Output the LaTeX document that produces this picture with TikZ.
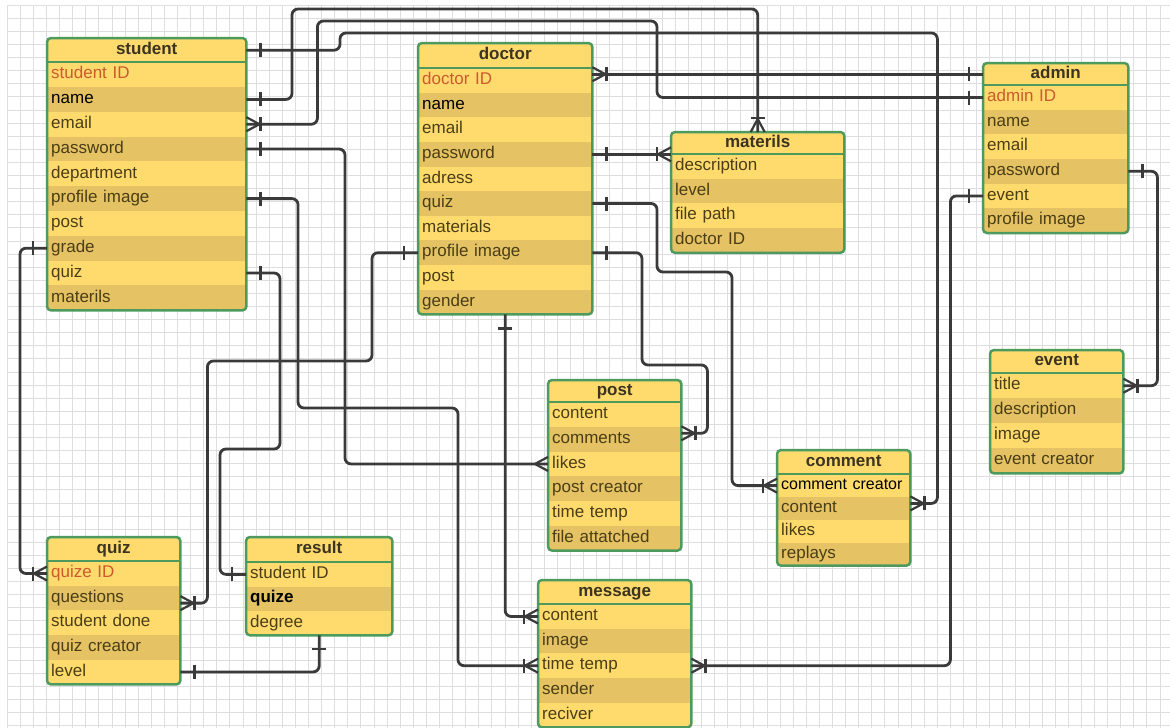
\documentclass[tikz,border=0pt]{standalone}
\usepackage{fontspec}
\setmainfont{Liberation Sans}
\usetikzlibrary{decorations.markings}

\definecolor{rowlight}{HTML}{FFDB6E}
\definecolor{rowdark}{HTML}{E5C263}
\definecolor{framegreen}{HTML}{4E9A5E}
\definecolor{relcol}{HTML}{3A3A3A}
\definecolor{fieldtxt}{HTML}{4A3E16}
\definecolor{hdrtxt}{HTML}{3B3420}
\definecolor{keyred}{HTML}{CC5A2E}
\definecolor{gridcol}{HTML}{DEDEDE}

\begin{document}
\begin{tikzpicture}[x=1pt,y=-1pt]
\def\rowfont{\fontsize{17}{19}\selectfont}; %text size of the fields
\def\barpos{14pt}; %distance of a bar from the table
\def\crowlen{13pt}; %length of a crow foot

\tikzstyle{hdr} = [rectangle, fill=rowlight, inner sep=0mm, anchor=north west, font=\rowfont\bfseries, text=hdrtxt, text height=12pt, text depth=3.5pt]
\tikzstyle{field1} = [rectangle, fill=rowlight, inner xsep=4pt, inner ysep=0pt, anchor=north west, align=left, font=\rowfont, text=fieldtxt, text height=12pt, text depth=3.5pt]
\tikzstyle{field0} = [field1, fill=rowdark]
\tikzstyle{tblframe} = [draw=framegreen, line width=2.5pt, rounded corners=4pt]
\tikzstyle{sepline} = [draw=framegreen, line width=2pt]
\tikzstyle{gridline} = [draw=gridcol, line width=0.6pt]
\tikzstyle{relline} = [draw=relcol, line width=2.8pt, rounded corners=6pt]
\tikzstyle{tipstroke} = [draw=relcol, line width=2.2pt, rounded corners=0pt]
\tikzstyle{onestart} = [postaction={decorate,decoration={markings,mark=at position \barpos with {\draw[tipstroke] (0,-7pt) -- (0,7pt);}}}]
\tikzstyle{oneend} = [postaction={decorate,decoration={markings,mark=at position -\barpos with {\draw[tipstroke] (0,-7pt) -- (0,7pt);}}}]
\tikzstyle{crowend} = [postaction={decorate,decoration={markings,mark=at position -\crowlen with {\draw[tipstroke] (\crowlen,7pt) -- (0,0) -- (\crowlen,-7pt);}}}]

% id, left, top, width, header height, row height, title, fields
\def\ertable#1#2#3#4#5#6#7#8{%
 \pgfmathsetmacro\tw{#4-8}
 \node[hdr, minimum width=#4pt, minimum height=#5pt] (#1) at (#2,#3) {#7};
 \foreach \fld [count=\i] in {#8}{
  \pgfmathtruncatemacro\rp{mod(\i,2)}
  \node[field\rp, minimum height=#6pt, text width=\tw pt] (#1\i) at (#2,{#3+#5+(\i-1)*#6}) {\fld};
  \xdef\nrows{\i}
 }
 \draw[sepline] (#1.south west) -- (#1.south east);
 \draw[tblframe] (#1.north west) rectangle (#1\nrows.south east);
}

\useasboundingbox (0,0) rectangle (1170,728);
\fill[white] (0,0) rectangle (1170,728);

% grid
\foreach \gx in {7,20.1,...,1170}{
 \draw[gridline] (\gx,5) -- (\gx,728);
}
\foreach \gy in {5,18.1,...,728}{
 \draw[gridline] (7,\gy) -- (1170,\gy);
}

% tables
\ertable{stu}{47}{38}{199}{24}{24.8}{student}{\textcolor{keyred}{student ID},\textcolor{black}{name},email,password,department,profile image,post,grade,quiz,materils}
\ertable{doc}{418}{43}{174}{25}{24.6}{doctor}{\textcolor{keyred}{doctor ID},\textcolor{black}{name},email,password,adress,quiz,materials,profile image,post,gender}
\ertable{mat}{671}{132}{173}{22}{24.6}{materils}{description,level,file path,doctor ID}
\ertable{adm}{983}{63}{145}{22}{24.6}{admin}{\textcolor{keyred}{admin ID},name,email,password,event,profile image}
\ertable{evt}{990}{350}{133}{23}{25}{event}{title,description,image,event creator}
\ertable{com}{777}{450}{133}{24}{22.8}{comment}{{\fontsize{16}{18}\selectfont\textcolor{black}{comment creator}},content,likes,replays}
\ertable{pst}{548}{380}{133}{22}{24.7}{post}{content,comments,likes,post creator,time temp,file attatched}
\ertable{msg}{538}{580}{153}{24}{24.6}{message}{content,image,time temp,sender,reciver}
\ertable{qz}{47}{537}{133}{24}{24.6}{quiz}{\textcolor{keyred}{quize ID},questions,student done,quiz creator,level}
\ertable{res}{246}{537}{146}{25}{24.3}{result}{student ID,\textbf{\textcolor{black}{quize}},degree}

% relations
\draw[relline,onestart,oneend,crowend] (stu.east) -| (340,33) -| ([xshift=27pt,yshift=5pt]com2.east) -- ([yshift=5pt]com2.east);
\draw[relline,onestart,oneend,crowend] (stu2.east) -| (292,9) -| (mat.north);
\draw[relline,onestart,oneend,crowend] (adm1.west) -| (657,21) -| ([xshift=71pt]stu3.east) -- (stu3.east);
\draw[relline,onestart,oneend,crowend] (adm.west) -- (adm.west -| doc1.east);
\draw[relline,onestart,crowend] (stu4.east) -| ([xshift=-203pt]pst3.west) -- (pst3.west);
\draw[relline,onestart,oneend,crowend] (stu6.east) -| (298,408) -| ([xshift=-80pt]msg3.west) -- (msg3.west);
\draw[relline,onestart,oneend] (stu9.east) -| (280,449) -| ([xshift=-26pt]res1.west) -- (res1.west);
\draw[relline,onestart,oneend,crowend] (doc8.west) -| (372,361) -| ([xshift=27pt,yshift=-5pt]qz2.east) -- ([yshift=-5pt]qz2.east);
\draw[relline,onestart,oneend,crowend] (stu8.west) -| ([xshift=-27pt]qz1.west) -- (qz1.west);
\draw[relline,onestart,oneend] (res3.south) |- (qz5.east);
\draw[relline,onestart,oneend,crowend] (doc4.east) -- (doc4.east -| mat1.west);
\draw[relline,onestart,oneend,crowend] (doc6.east) -| (657,272) -| ([xshift=-45pt]com1.west) -- (com1.west);
\draw[relline,onestart,oneend,crowend] (doc8.east) -| (642,365) -| ([xshift=26pt,yshift=6pt]pst2.east) -- ([yshift=6pt]pst2.east);
\draw[relline,onestart,oneend,crowend] (doc10.south) |- (msg1.west);
\draw[relline,onestart,oneend,crowend] (adm4.east) -| ([xshift=34pt]evt1.east) -- (evt1.east);
\draw[relline,onestart,oneend,crowend] (adm5.west) -| ([xshift=259pt]msg3.east) -- (msg3.east);

\end{tikzpicture}
\end{document}
